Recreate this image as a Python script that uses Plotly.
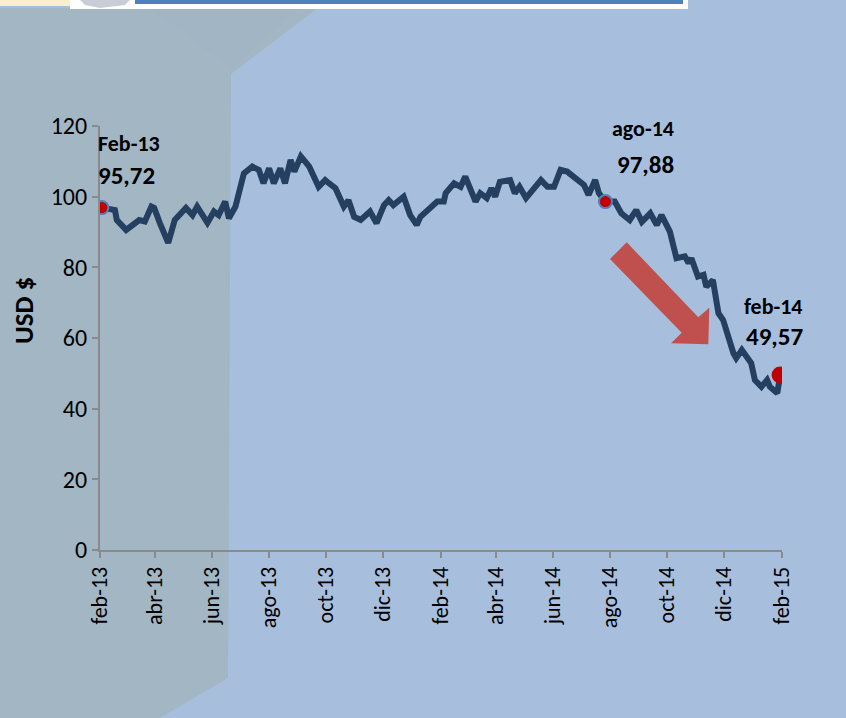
import plotly.graph_objects as go

# ---- data ----
dates = [
    "2013-02-03", "2013-02-17", "2013-02-19", "2013-03-01", "2013-03-15", "2013-03-21",
    "2013-03-28", "2013-03-31", "2013-04-06", "2013-04-15", "2013-04-22", "2013-05-04",
    "2013-05-11", "2013-05-16", "2013-05-27", "2013-06-03", "2013-06-08", "2013-06-15",
    "2013-06-19", "2013-06-26", "2013-07-05", "2013-07-14", "2013-07-21", "2013-07-26",
    "2013-08-01", "2013-08-06", "2013-08-13", "2013-08-18", "2013-08-24", "2013-08-28",
    "2013-09-04", "2013-09-13", "2013-09-23", "2013-09-30", "2013-10-04", "2013-10-11",
    "2013-10-20", "2013-10-25", "2013-10-31", "2013-11-07", "2013-11-17", "2013-11-24",
    "2013-12-02", "2013-12-07", "2013-12-12", "2013-12-23", "2013-12-30", "2014-01-06",
    "2014-01-10", "2014-01-19", "2014-01-28", "2014-02-04", "2014-02-06", "2014-02-15",
    "2014-02-22", "2014-02-27", "2014-03-04", "2014-03-10", "2014-03-15", "2014-03-22",
    "2014-03-27", "2014-03-31", "2014-04-05", "2014-04-16", "2014-04-21", "2014-04-26",
    "2014-05-03", "2014-05-10", "2014-05-19", "2014-05-26", "2014-06-02", "2014-06-09",
    "2014-06-16", "2014-07-04", "2014-07-09", "2014-07-16", "2014-07-20", "2014-07-27",
    "2014-08-06", "2014-08-13", "2014-08-22", "2014-08-29", "2014-09-04", "2014-09-13",
    "2014-09-20", "2014-09-25", "2014-10-04", "2014-10-11", "2014-10-20", "2014-10-24",
    "2014-10-27", "2014-11-03", "2014-11-09", "2014-11-12", "2014-11-19", "2014-11-25",
    "2014-11-30", "2014-12-11", "2014-12-14", "2014-12-20", "2014-12-30", "2015-01-03",
    "2015-01-10", "2015-01-16", "2015-01-19", "2015-01-27", "2015-01-28", "2015-01-30",
]
prices = [
    96.9, 96.2, 93.4, 90.6, 93.4, 93.0,
    97.2, 96.8, 92.6, 86.9, 93.4, 96.8,
    94.8, 97.2, 92.6, 95.8, 94.8, 98.6,
    93.9, 97.2, 106.6, 108.5, 107.6, 103.8,
    108.0, 103.8, 108.0, 103.8, 110.4, 107.1,
    111.4, 108.5, 102.8, 104.7, 103.8, 102.4,
    97.2, 99.0, 94.3, 93.4, 95.8, 92.5,
    97.6, 99.0, 97.6, 100.0, 94.8, 92.0,
    94.3, 96.7, 98.6, 98.6, 101.0, 103.8,
    102.8, 105.7, 102.4, 98.6, 101.0, 99.6,
    102.4, 100.0, 104.2, 104.7, 101.0, 102.8,
    99.6, 101.9, 104.7, 102.8, 102.8, 107.6,
    107.1, 103.3, 100.5, 104.7, 101.0, 98.6,
    98.6, 95.3, 93.4, 96.2, 92.9, 95.3,
    92.0, 94.8, 90.1, 82.6, 83.1, 81.2,
    82.6, 77.4, 77.9, 74.5, 76.4, 67.0,
    65.1, 55.7, 54.3, 56.6, 52.9, 48.1,
    46.2, 48.1, 46.2, 44.4, 47.2, 49.5,
]
marker_dates = ["2013-02-03", "2014-07-27", "2015-01-30"]
marker_vals = [96.9, 98.6, 49.5]
label_titles = ["Feb-13", "ago-14", "feb-14"]
label_values = ["95,72", "97,88", "49,57"]
y_title = "USD $"

tick_dates = ["2013-02-01", "2013-04-01", "2013-06-01", "2013-08-01", "2013-10-01",
              "2013-12-01", "2014-02-01", "2014-04-01", "2014-06-01", "2014-08-01",
              "2014-10-01", "2014-12-01", "2015-02-01"]
tick_labels = ["feb-13", "abr-13", "jun-13", "ago-13", "oct-13", "dic-13", "feb-14",
               "abr-14", "jun-14", "ago-14", "oct-14", "dic-14", "feb-15"]
y_ticks = [0, 20, 40, 60, 80, 100, 120]

# ---- layout geometry ----
W, H = 846, 718
L, R, T, B = 100, 64, 126, 168
PW, PH = W - L - R, H - T - B


def px(x):
    return (x - L) / PW


def py(y):
    return (H - B - y) / PH


def path(points):
    return "M " + " L ".join(f"{px(a):.5f},{py(b):.5f}" for a, b in points) + " Z"


FONT = "Carlito, Calibri, Lato, sans-serif"
BG = "#a7bfdc"
GRAY = "#a2b6c4"

fig = go.Figure()

fig.add_trace(go.Scatter(
    x=dates, y=prices, mode="lines",
    line=dict(color="#243f60", width=6),
    hoverinfo="skip", showlegend=False,
))
fig.add_trace(go.Scatter(
    x=marker_dates[:2], y=marker_vals[:2], mode="markers",
    marker=dict(color="#c00000", size=13, line=dict(color="#4f81bd", width=2)),
    showlegend=False,
))
fig.add_trace(go.Scatter(
    x=marker_dates[2:], y=marker_vals[2:], mode="markers",
    marker=dict(color="#c00000", size=17, line=dict(color="#c00000", width=0)),
    showlegend=False,
))

shapes = [
    # grey left panel
    dict(type="path", xref="paper", yref="paper", layer="below",
         path=path([(0, 8), (318, 8), (231, 74), (228, 678), (160, 718), (0, 718)]),
         fillcolor=GRAY, line=dict(width=0)),
    dict(type="path", xref="paper", yref="paper", layer="below",
         path=path([(150, 8), (300, 8), (231, 68)]),
         fillcolor="#a1b5c5", line=dict(width=0)),
    # top banner pieces
    dict(type="rect", xref="paper", yref="paper", layer="below",
         x0=px(0), x1=px(75), y0=py(6), y1=py(0),
         fillcolor="#f8efcf", line=dict(width=0)),
    dict(type="rect", xref="paper", yref="paper", layer="below",
         x0=px(70), x1=px(688), y0=py(9), y1=py(0),
         fillcolor="#ffffff", line=dict(width=0)),
    dict(type="path", xref="paper", yref="paper", layer="below",
         path=path([(80, 0), (130, 0), (125, 5), (100, 8), (85, 5)]),
         fillcolor="#c9cdd6", line=dict(width=0)),
    dict(type="rect", xref="paper", yref="paper", layer="below",
         x0=px(135), x1=px(683), y0=py(4), y1=py(0),
         fillcolor="#4f81bd", line=dict(width=0)),
    # red arrow
    dict(type="path", xref="paper", yref="paper", layer="above",
         path=path([(610, 259), (626.7, 242.3), (698.3, 317.3), (709.3, 307.7),
                    (708.3, 344.3), (671, 343.3), (681.7, 332.7)]),
         fillcolor="#c0504d", line=dict(width=0)),
]

annotations = []
title_pos = [(129, 143), (643, 128), (773, 306)]
value_pos = [(126, 175), (645, 165), (774, 336)]
for t, (x, y) in zip(label_titles, title_pos):
    annotations.append(dict(text=f"<b>{t}</b>", x=px(x), y=py(y), xref="paper", yref="paper",
                            showarrow=False, xanchor="center", yanchor="middle",
                            font=dict(family=FONT, size=22, color="#000000")))
for t, (x, y) in zip(label_values, value_pos):
    annotations.append(dict(text=f"<b>{t}</b>", x=px(x), y=py(y), xref="paper", yref="paper",
                            showarrow=False, xanchor="center", yanchor="middle",
                            font=dict(family=FONT, size=25, color="#000000")))
annotations.append(dict(text=f"<b>{y_title}</b>", x=px(23), y=py(311), xref="paper",
                        yref="paper", showarrow=False, textangle=-90,
                        xanchor="center", yanchor="middle",
                        font=dict(family=FONT, size=27, color="#000000")))

fig.update_layout(
    width=W, height=H,
    margin=dict(l=L, r=R, t=T, b=B, pad=0),
    paper_bgcolor=BG, plot_bgcolor="rgba(0,0,0,0)",
    shapes=shapes, annotations=annotations,
    font=dict(family=FONT, color="#000000"),
    xaxis=dict(
        type="date", range=["2013-02-01", "2015-02-01"],
        tickmode="array", tickvals=tick_dates, ticktext=tick_labels,
        tickangle=-90, tickfont=dict(family=FONT, size=22, color="#000000"),
        showgrid=False, zeroline=False,
        showline=True, linecolor="#8a8a8a", linewidth=2,
        ticks="outside", ticklen=6, tickcolor="#8a8a8a", tickwidth=2,
    ),
    yaxis=dict(
        range=[0, 120], tickmode="array", tickvals=y_ticks,
        tickfont=dict(family=FONT, size=24, color="#000000"),
        showgrid=False, zeroline=False,
        showline=True, linecolor="#8a8a8a", linewidth=2,
        ticks="outside", ticklen=6, tickcolor="#8a8a8a", tickwidth=2,
    ),
)

fig.write_html("out.html", config={"displayModeBar": False})

# remove the default page margin so the figure sits at the window's corner
with open("out.html", encoding="utf-8") as f:
    html = f.read()
html = html.replace("<body>", '<body style="margin:0;padding:0;overflow:hidden">', 1)
html = html.replace("<head>", "<head><style>html,body{margin:0;padding:0}</style>", 1)
with open("out.html", "w", encoding="utf-8") as f:
    f.write(html)
